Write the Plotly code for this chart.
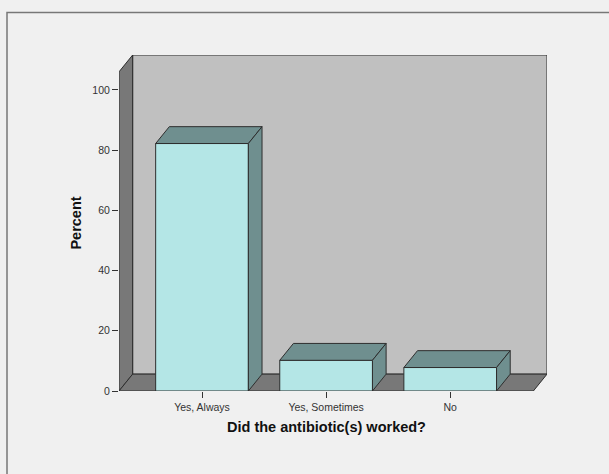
import plotly.graph_objects as go

# ---- data ----
categories = ["Yes, Always", "Yes, Sometimes", "No"]
percent = [82.2, 10.2, 7.8]
y_ticks = [0, 20, 40, 60, 80, 100]
x_title = "Did the antibiotic(s) worked?"
y_title = "Percent"

# ---- 3D look parameters (data units) ----
bar_w = 0.747          # bar width in category units
dx, dy = 0.11, 5.6     # depth offset
x_lo, x_hi = -0.669, 2.78
y_hi = 111.6
wall_top_front = y_hi - dy

FRONT = "#b4e6e6"
TOP = "#6f8f8f"
BACK = "#c0c0c0"
DARK = "#787878"
EDGE = "#2e2e2e"

xs = list(range(len(categories)))

fig = go.Figure()

def poly(px, py, color, lw=1, hover=None):
    fig.add_trace(go.Scatter(
        x=px + [px[0]], y=py + [py[0]], mode="lines", fill="toself",
        fillcolor=color, line=dict(color=EDGE, width=lw),
        hoverinfo="skip" if hover is None else "text",
        text=hover, showlegend=False, cliponaxis=False))

# back wall
poly([x_lo + dx, x_hi, x_hi, x_lo + dx], [dy, dy, y_hi, y_hi], BACK)
# left wall
poly([x_lo, x_lo + dx, x_lo + dx, x_lo], [0, dy, y_hi, wall_top_front], DARK)
# floor
poly([x_lo, x_hi - dx, x_hi, x_lo + dx], [0, 0, dy, dy], DARK)

# bars: front, top and side faces
for xc, v, name in zip(xs, percent, categories):
    l, r = xc - bar_w / 2, xc + bar_w / 2
    poly([l, r, r, l], [0, 0, v, v], FRONT, hover=f"{name}: {v}%")
    poly([l, l + dx, r + dx, r], [v, v + dy, v + dy, v], TOP)
    poly([r, r + dx, r + dx, r], [0, dy, v + dy, v], TOP)

fig.update_layout(
    width=609, height=474,
    margin=dict(l=119, r=62, t=55, b=83, autoexpand=False),
    paper_bgcolor="#f0f0f0", plot_bgcolor="rgba(0,0,0,0)",
    font=dict(family="Liberation Sans, Arial, sans-serif", color="#333333"),
    shapes=[dict(type="rect", xref="paper", yref="paper",
                 x0=(7 - 119) / 428, x1=(640 - 119) / 428,
                 y0=(391 - 500) / 336, y1=(391 - 12.5) / 336,
                 line=dict(color="#777777", width=1.5), fillcolor="rgba(0,0,0,0)",
                 layer="below")],
    annotations=[dict(text=f"<b>{x_title}</b>", xref="x", yref="paper",
                      x=(x_lo + x_hi - dx) / 2, y=(391 - 426.7) / 336,
                      xanchor="center", yanchor="middle", showarrow=False,
                      font=dict(size=14.5, color="#111111"))],
)
fig.update_xaxes(
    range=[x_lo, x_hi], tickmode="array", tickvals=xs, ticktext=categories,
    showgrid=False, zeroline=False, showline=False,
    ticks="outside", ticklen=6, tickcolor="#333333",
    tickfont=dict(size=10.5, color="#333333"),
    automargin=False)
fig.update_yaxes(
    range=[0, y_hi], tickmode="array", tickvals=y_ticks,
    showgrid=False, zeroline=False, showline=False,
    ticks="outside", ticklen=6, tickcolor="#333333",
    tickfont=dict(size=10.5, color="#333333"),
    title=dict(text=f"<b>{y_title}</b>", font=dict(size=14.5, color="#111111"), standoff=7),
    automargin=False)

fig.write_html("out.html")
